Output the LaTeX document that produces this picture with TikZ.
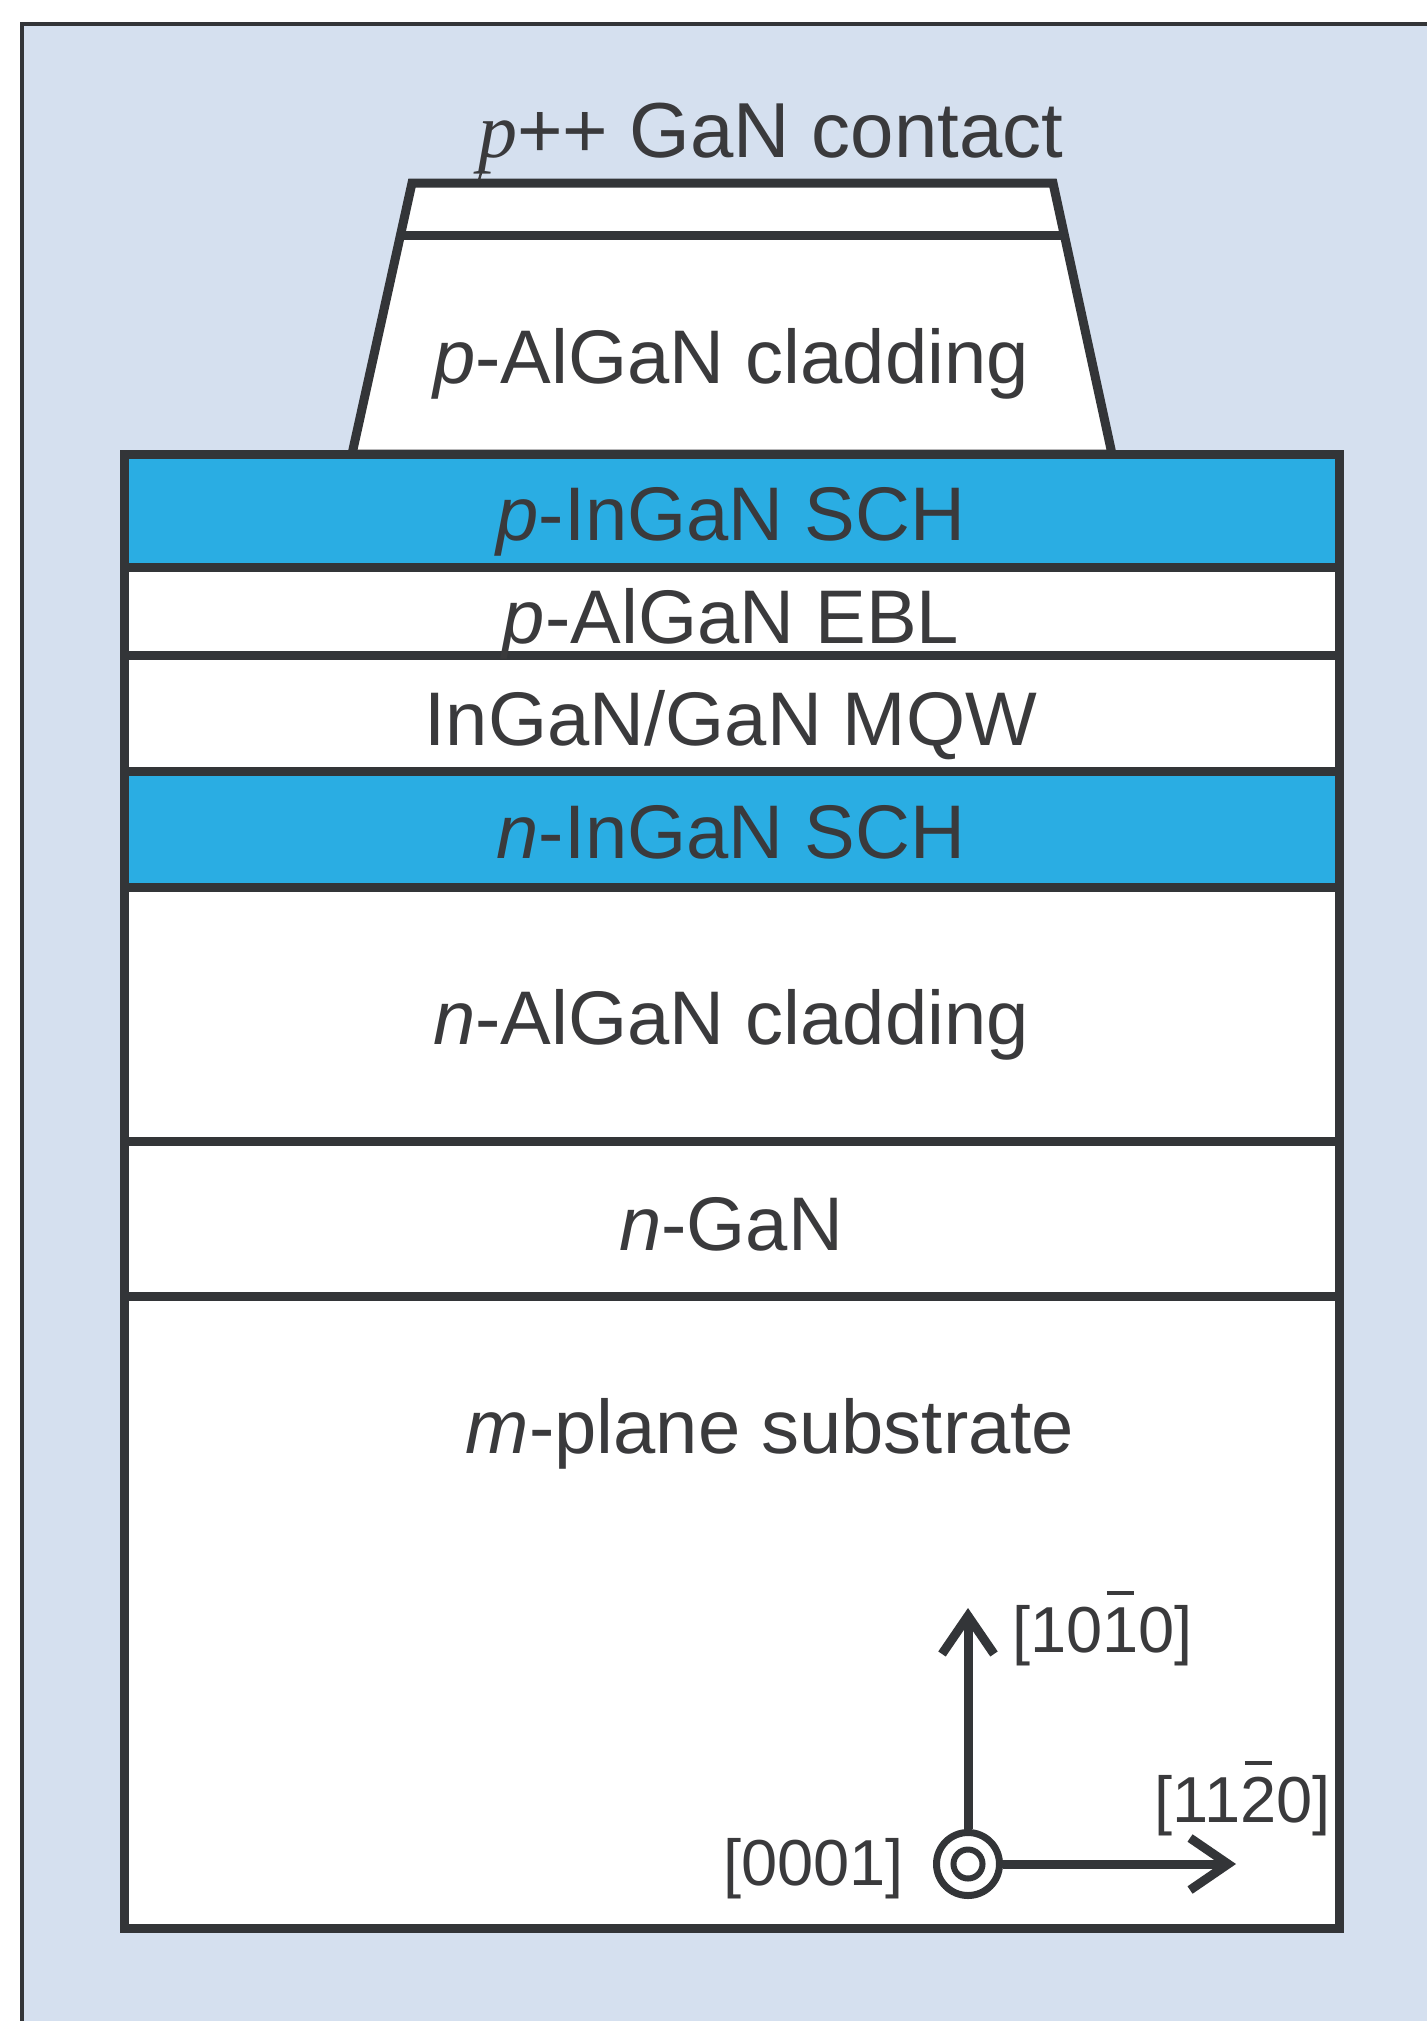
\documentclass[tikz,border=0pt]{standalone}
\usepackage{fontspec}
\setmainfont{Liberation Sans}
\newfontfamily\serifp{Liberation Serif}
\usetikzlibrary{arrows.meta}
\definecolor{bgblue}{HTML}{D5E0EF}
\definecolor{schblue}{HTML}{2AADE3}
\definecolor{edge}{HTML}{333538}
\definecolor{ink}{HTML}{3A3A3C}
% digit with a raised bar above it, as in Miller-Bravais indices
\newcommand\obar[1]{{\ooalign{#1\cr\hidewidth\raisebox{0.88em}{\rule{0.42em}{0.055em}}\hidewidth\cr}}}
\tikzset{
  layerline/.style={draw=edge, line width=9pt},
  lbl/.style={text=ink, inner sep=0pt, anchor=base, font=\fontsize{76}{80}\selectfont},
  axlbl/.style={text=ink, inner sep=0pt, font=\fontsize{65}{68}\selectfont},
  axis/.style={draw=edge, line width=9pt, -{Straight Barb[length=38pt,width=52pt,line width=9pt]}},
  ring/.style={circle, draw=edge, inner sep=0pt, fill=white}
}
\begin{document}
\begin{tikzpicture}[x=1pt,y=-1pt]
\useasboundingbox (0,0) rectangle (1427,2021);
% backdrop panel and its frame
\fill[bgblue] (22,24) rectangle (1427,2021);
\draw[edge, line width=4.5pt] (22,2021) -- (22,24) -- (1427,24);

% ridge: p-AlGaN cladding with p++ contact on top
\filldraw[fill=white, layerline, line join=miter]
  (352,454) -- (412,183) -- (1053,183) -- (1112,454) -- cycle;
\draw[layerline] (400.5,235) -- (1064.5,235);

% epitaxial stack
\fill[white] (124,454) rectangle (1339,1928);
\fill[schblue] (124,454) rectangle (1339,567);
\fill[schblue] (124,771) rectangle (1339,887);
\foreach \yy in {567,655,771,887,1141,1296}
  \draw[layerline] (124,\yy) -- (1339,\yy);
\draw[layerline, line join=miter] (124,454) rectangle (1339,1928);

% layer labels
\node[lbl, anchor=base west, font=\fontsize{78}{80}\selectfont] (contact) at (478,157) {{\serifp\itshape p}++ GaN contact};
\draw[ink, line width=2.4pt] (483,166) -- (479,180);
\node[lbl] (pclad) at (731,383) {\textit{p}-AlGaN cladding};
\node[lbl] (psch) at (731,540) {\textit{p}-InGaN SCH};
\node[lbl] (ebl) at (731,643) {\textit{p}-AlGaN EBL};
\node[lbl] (mqw) at (731,745) {InGaN/GaN MQW};
\node[lbl] (nsch) at (731,858) {\textit{n}-InGaN SCH};
\node[lbl] (nclad) at (731,1044) {\textit{n}-AlGaN cladding};
\node[lbl] (ngan) at (731,1250) {\textit{n}-GaN};
\node[lbl] (sub) at (770,1453) {\textit{m}-plane substrate};

% crystal axes
\node[ring, line width=7pt, minimum size=63pt] (o) at (968,1864) {};
\node[ring, line width=6pt, minimum size=29pt] (oi) at (968,1864) {};
\coordinate (up) at (968,1608);
\coordinate (rt) at (1236,1864);
\draw[axis] (o) -- (up);
\draw[axis] (o) -- (rt);
\node[axlbl, anchor=base west] (m) at (1012,1652) {[10\obar{1}0]};
\node[axlbl, anchor=base east] (a) at (1331,1822) {[11\obar{2}0]};
\node[axlbl, anchor=base east] (c) at (904,1885) {[0001]};
\end{tikzpicture}
\end{document}
